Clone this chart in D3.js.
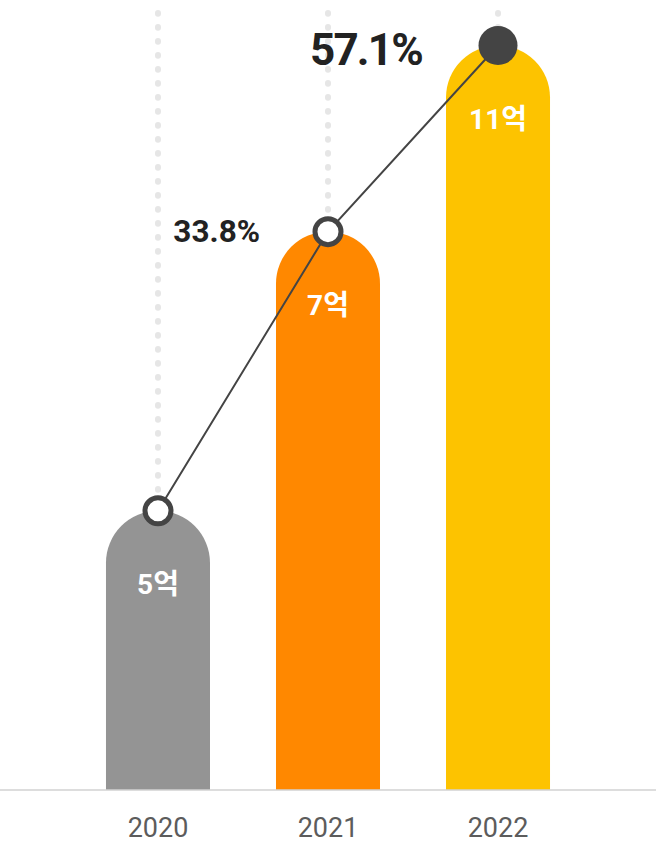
<!DOCTYPE html>
<html><head><meta charset="utf-8">
<script src="https://cdn.jsdelivr.net/npm/d3@7"></script>
<style>html,body{margin:0;padding:0;background:#fff;}svg{display:block;}</style>
</head><body>
<svg id="c" width="656" height="843"></svg>
<script>
const years = ["2020", "2021", "2022"];
const revenueLabels = ["5억", "7억", "11억"];
const barLevels = [3, 6, 8];
const growthLabels = [null, "33.8%", "57.1%"];
const barColors = ["#949494", "#FF8800", "#FDC300"];

const W = 656, H = 843, baseY = 790;
const svg = d3.select("#c");
const x = d3.scaleBand().domain(years).range([73, 583]).paddingInner(0.3882).paddingOuter(0.194);
const y = d3.scaleLinear().domain([0, 8]).range([baseY, 45.5]);
const bw = x.bandwidth();
const cx = d => x(d) + bw / 2;
const data = years.map((yr, i) => ({yr, lvl: barLevels[i], lab: revenueLabels[i], g: growthLabels[i], col: barColors[i], i}));
const last = data.length - 1;

// dotted guides
svg.selectAll("line.guide").data(data).join("line")
  .attr("x1", d => cx(d.yr)).attr("x2", d => cx(d.yr))
  .attr("y1", 13).attr("y2", d => y(d.lvl))
  .attr("stroke", "#e6e6e6").attr("stroke-width", 6)
  .attr("stroke-linecap", "round").attr("stroke-dasharray", "0.8 13.2");

// bars with rounded tops
svg.selectAll("path.bar").data(data).join("path")
  .attr("fill", d => d.col)
  .attr("d", d => {
    const x0 = x(d.yr), x1 = x0 + bw, r = bw / 2, top = y(d.lvl);
    return `M${x0},${baseY}V${top + r}A${r},${r} 0 0 1 ${x1},${top + r}V${baseY}Z`;
  });

// baseline
svg.append("line").attr("x1", 0).attr("x2", W).attr("y1", baseY).attr("y2", baseY)
  .attr("stroke", "#d2d2d2").attr("stroke-width", 1.5);

// connecting line
svg.append("path").datum(data)
  .attr("fill", "none").attr("stroke", "#444").attr("stroke-width", 2)
  .attr("d", d3.line().x(d => cx(d.yr)).y(d => y(d.lvl)));

// dots
svg.selectAll("circle.dot").data(data).join("circle")
  .attr("cx", d => cx(d.yr)).attr("cy", d => y(d.lvl))
  .attr("r", d => d.i === last ? 19.5 : 13)
  .attr("fill", d => d.i === last ? "#444" : "#fff")
  .attr("stroke", "#444").attr("stroke-width", d => d.i === last ? 0 : 5);

const FF = "Roboto, 'Noto Sans CJK KR', sans-serif";
// value labels inside bars
svg.selectAll("text.val").data(data).join("text")
  .attr("x", d => cx(d.yr)).attr("y", d => y(d.lvl) + 83)
  .attr("text-anchor", "middle").attr("fill", "#fff")
  .attr("font-family", FF).attr("font-weight", 700).attr("font-size", 28)
  .text(d => d.lab);

// growth labels
const gdata = data.filter(d => d.g);
svg.selectAll("text.growth").data(gdata).join("text")
  .attr("x", d => cx(d.yr) - (d.i === last ? 76 : 68))
  .attr("y", d => y(d.lvl) + (d.i === last ? 19.5 : 10.5))
  .attr("text-anchor", "end").attr("fill", "#222")
  .attr("font-family", FF).attr("font-weight", 700)
  .attr("font-size", d => d.i === last ? 44 : 31.5)
  .attr("letter-spacing", d => d.i === last ? -1.8 : 0)
  .text(d => d.g);

// x axis labels
svg.selectAll("text.year").data(data).join("text")
  .attr("x", d => cx(d.yr)).attr("y", 837)
  .attr("text-anchor", "middle").attr("fill", "#5c5c5c")
  .attr("font-family", FF).attr("font-size", 27)
  .text(d => d.yr);
</script>
</body></html>
